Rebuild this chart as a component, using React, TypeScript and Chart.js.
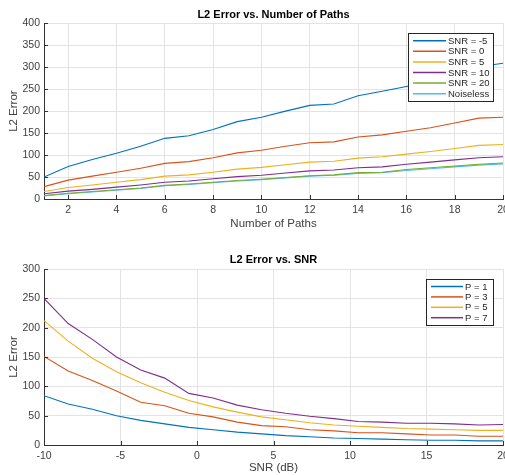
import { useEffect, useRef } from "react";
import { Chart, registerables } from "chart.js";

Chart.register(...registerables);

// ---------- Data: top chart ----------
const pathCounts = [1, 2, 3, 4, 5, 6, 7, 8, 9, 10, 11, 12, 13, 14, 15, 16, 17, 18, 19, 20];
const snrMinus5 = [50, 74, 90, 104, 120, 138, 144, 158, 176, 186, 200, 213, 216, 235, 245, 256, 268, 282, 301, 309];
const snr0 = [28, 43, 52, 61, 70, 81, 85, 94, 105, 111, 120, 128, 130, 141, 146, 154, 162, 173, 184, 186];
const snr5 = [17, 26, 32, 38, 44, 52, 55, 61, 68, 72, 78, 84, 86, 93, 96, 102, 108, 115, 122, 124];
const snr10 = [12, 18, 22, 27, 32, 38, 41, 46, 51, 54, 59, 64, 66, 71, 73, 79, 84, 89, 94, 96];
const snr20 = [8, 13, 17, 21, 25, 31, 34, 38, 42, 45, 49, 53, 55, 60, 61, 67, 71, 75, 79, 82];
const noiseless = [7, 12, 16, 20, 24, 30, 33, 37, 41, 44, 48, 52, 54, 58, 60, 65, 69, 73, 77, 80];
const topLabels = ["SNR = -5", "SNR = 0", "SNR = 5", "SNR = 10", "SNR = 20", "Noiseless"];
const pathTicks = [2, 4, 6, 8, 10, 12, 14, 16, 18, 20];
const topErrorTicks = [0, 50, 100, 150, 200, 250, 300, 350, 400];

// ---------- Data: bottom chart ----------
const snrDb = [-10, -8.42, -6.84, -5.26, -3.68, -2.11, -0.53, 1.05, 2.63, 4.21, 5.79, 7.37, 8.95, 10.53, 12.11, 13.68, 15.26, 16.84, 18.42, 20];
const p1 = [84, 70, 61, 50, 42, 36, 30, 26, 22, 19, 16, 14, 12, 11, 10, 9, 8, 8, 7, 7];
const p3 = [151, 126, 110, 92, 73, 67, 54, 48, 39, 33, 31, 26, 24, 21, 21, 19, 17, 17, 15, 15];
const p5 = [212, 177, 148, 125, 106, 90, 76, 65, 56, 48, 43, 38, 34, 32, 30, 28, 27, 26, 25, 25];
const p7 = [250, 207, 180, 150, 128, 114, 88, 80, 68, 60, 54, 49, 45, 40, 39, 37, 37, 36, 34, 35];
const bottomLabels = ["P = 1", "P = 3", "P = 5", "P = 7"];
const snrTicks = [-10, -5, 0, 5, 10, 15, 20];
const bottomErrorTicks = [0, 50, 100, 150, 200, 250, 300];

const COLORS = ["#0072BD", "#D95319", "#EDB120", "#7E2F8E", "#77AC30", "#4DBEEE"];
const FONT = "'Liberation Sans', Arial, Helvetica, sans-serif";
const TEXT = "#404040";
const AXIS = "#333333";
const GRID = "#e3e3e3";

type LegendCfg = {
  right: number;
  top: number;
  width: number;
  height: number;
  firstRow: number;
  rowH: number;
  lineX0: number;
  lineX1: number;
  textX: number;
};

function framePlugin(legend: LegendCfg) {
  return {
    id: "frame",
    afterDraw(chart: any) {
      const { ctx, chartArea: a, scales } = chart;
      ctx.save();
      ctx.strokeStyle = AXIS;
      ctx.lineWidth = 1;
      ctx.beginPath();
      scales.x.ticks.forEach((t: any) => {
        const px = Math.round(scales.x.getPixelForValue(t.value)) + 0.5;
        ctx.moveTo(px, a.bottom);
        ctx.lineTo(px, a.bottom - 4);
      });
      scales.y.ticks.forEach((t: any) => {
        const py = Math.round(scales.y.getPixelForValue(t.value)) + 0.5;
        ctx.moveTo(a.left, py);
        ctx.lineTo(a.left + 4, py);
      });
      ctx.stroke();

      const x0 = a.right - legend.right - legend.width;
      const y0 = a.top + legend.top;
      ctx.fillStyle = "#ffffff";
      ctx.fillRect(x0, y0, legend.width, legend.height);
      ctx.strokeStyle = "#262626";
      ctx.lineWidth = 1;
      ctx.strokeRect(Math.round(x0) + 0.5, Math.round(y0) + 0.5, legend.width, legend.height);
      ctx.font = `9.5px ${FONT}`;
      ctx.textBaseline = "middle";
      ctx.textAlign = "left";
      chart.data.datasets.forEach((ds: any, i: number) => {
        const y = y0 + legend.firstRow + i * legend.rowH;
        ctx.strokeStyle = ds.borderColor;
        ctx.lineWidth = 1.5;
        ctx.beginPath();
        ctx.moveTo(x0 + legend.lineX0, y);
        ctx.lineTo(x0 + legend.lineX1, y);
        ctx.stroke();
        ctx.fillStyle = "#262626";
        ctx.fillText(ds.label, x0 + legend.textX, y + 0.5);
      });
      ctx.restore();
    },
  };
}

function makeOptions(p: {
  title: string;
  titlePadTop: number;
  titlePadBottom: number;
  xTitle: string;
  xTitlePadBottom: number;
  xMin: number;
  xMax: number;
  xTicks: number[];
  yMax: number;
  yTicks: number[];
  xHeight: number;
}) {
  return {
    responsive: false,
    animation: false as const,
    layout: { padding: { left: 0, right: 2, top: 0, bottom: 0 } },
    plugins: {
      legend: { display: false },
      tooltip: { enabled: false },
      title: {
        display: true,
        text: p.title,
        fullSize: false,
        color: "#000000",
        font: { family: FONT, size: 11, weight: "bold" as const, lineHeight: 1.2 },
        padding: { top: p.titlePadTop, bottom: p.titlePadBottom },
      },
    },
    elements: { point: { radius: 0 }, line: { borderWidth: 1.1, tension: 0 } },
    scales: {
      x: {
        type: "linear" as const,
        min: p.xMin,
        max: p.xMax,
        afterBuildTicks: (s: any) => {
          s.ticks = p.xTicks.map((v) => ({ value: v }));
        },
        afterFit: (s: any) => {
          s.height = p.xHeight;
          s.paddingLeft = 0;
          s.paddingRight = 0;
        },
        grid: { color: GRID, drawTicks: false, lineWidth: 1 },
        border: { display: true, color: AXIS, width: 1 },
        ticks: {
          color: TEXT,
          padding: 4.5,
          maxRotation: 0,
          autoSkip: false,
          font: { family: FONT, size: 10.5 },
          callback: (v: any) => String(v),
        },
        title: {
          display: true,
          text: p.xTitle,
          color: TEXT,
          font: { family: FONT, size: 11.5, lineHeight: 1.2 },
          padding: { top: 0, bottom: p.xTitlePadBottom },
        },
      },
      y: {
        type: "linear" as const,
        min: 0,
        max: p.yMax,
        afterBuildTicks: (s: any) => {
          s.ticks = p.yTicks.map((v) => ({ value: v }));
        },
        afterFit: (s: any) => {
          s.width = 44;
          s.paddingTop = 0;
          s.paddingBottom = 0;
        },
        grid: { color: GRID, drawTicks: false, lineWidth: 1 },
        border: { display: true, color: AXIS, width: 1 },
        ticks: {
          color: TEXT,
          padding: 4,
          font: { family: FONT, size: 10.5 },
          callback: (v: any) => String(v),
        },
        title: {
          display: true,
          text: "L2 Error",
          color: TEXT,
          font: { family: FONT, size: 11.5, lineHeight: 1.2 },
          padding: { top: 6.5, bottom: 0 },
        },
      },
    },
  };
}

function toPoints(xs: number[], ys: number[]) {
  return xs.map((x, i) => ({ x, y: ys[i] }));
}

export default function App() {
  const topRef = useRef<HTMLCanvasElement>(null);
  const bottomRef = useRef<HTMLCanvasElement>(null);

  useEffect(() => {
    const topSeries = [snrMinus5, snr0, snr5, snr10, snr20, noiseless];
    const top = new Chart(topRef.current!, {
      type: "line",
      data: {
        datasets: topSeries.map((s, i) => ({
          label: topLabels[i],
          data: toPoints(pathCounts, s),
          borderColor: COLORS[i],
          backgroundColor: COLORS[i],
          fill: false,
        })),
      },
      options: makeOptions({
        title: "L2 Error vs. Number of Paths",
        titlePadTop: 8,
        titlePadBottom: 2,
        xTitle: "Number of Paths",
        xTitlePadBottom: 9,
        xMin: 1,
        xMax: 20,
        xTicks: pathTicks,
        yMax: 400,
        yTicks: topErrorTicks,
        xHeight: 41,
      }) as any,
      plugins: [
        framePlugin({
          right: 10,
          top: 10,
          width: 85,
          height: 68,
          firstRow: 7.5,
          rowH: 10.6,
          lineX0: 5,
          lineX1: 38,
          textX: 40,
        }),
      ],
    });

    const bottomSeries = [p1, p3, p5, p7];
    const bottom = new Chart(bottomRef.current!, {
      type: "line",
      data: {
        datasets: bottomSeries.map((s, i) => ({
          label: bottomLabels[i],
          data: toPoints(snrDb, s),
          borderColor: COLORS[i],
          backgroundColor: COLORS[i],
          fill: false,
        })),
      },
      options: makeOptions({
        title: "L2 Error vs. SNR",
        titlePadTop: 13,
        titlePadBottom: 2.8,
        xTitle: "SNR (dB)",
        xTitlePadBottom: 0,
        xMin: -10,
        xMax: 20,
        xTicks: snrTicks,
        yMax: 300,
        yTicks: bottomErrorTicks,
        xHeight: 30,
      }) as any,
      plugins: [
        framePlugin({
          right: 10,
          top: 10,
          width: 67,
          height: 46,
          firstRow: 7.5,
          rowH: 10.4,
          lineX0: 5,
          lineX1: 37,
          textX: 39,
        }),
      ],
    });

    return () => {
      top.destroy();
      bottom.destroy();
    };
  }, []);

  return (
    <div style={{ position: "absolute", left: 0, top: 0, width: 505, height: 475, background: "#ffffff" }}>
      <canvas ref={topRef} width={505} height={240} style={{ display: "block", width: 505, height: 240 }} />
      <canvas ref={bottomRef} width={505} height={235} style={{ display: "block", width: 505, height: 235 }} />
    </div>
  );
}
